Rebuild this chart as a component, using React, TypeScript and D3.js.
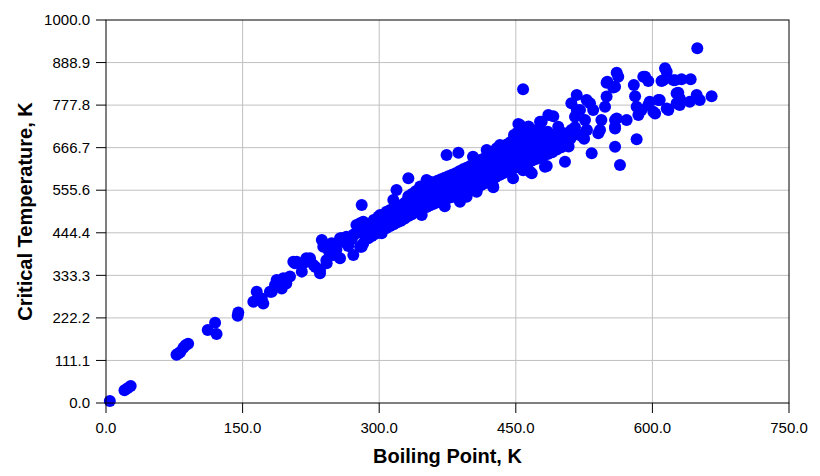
import React from "react";
import * as d3 from "d3";

// Boiling point (K), critical temperature (K)
const lowTail: [number, number][] = [
  [4.2, 5.2], [20.3, 33.2], [23.6, 38.3], [27.1, 44.4],
  [77.4, 126.2], [79.5, 129], [81.6, 132.9], [85, 144], [87.3, 150.8], [90.2, 154.6],
  [111.7, 190.6], [119.8, 209.4], [121.4, 180], [144.6, 227.6], [145.3, 236],
];

const lowerBand: [number, number][] = [
  [161.8, 264.5], [165.5, 290.6], [172.7, 260], [171, 273], [180, 290.6], [187.4, 321],
  [193, 299], [198, 312], [202, 330], [185.6, 308], [194.7, 325.6], [182, 290.6],
  [209.4, 369], [216.7, 364.7], [215, 343], [220, 377.8], [224, 378], [235, 338.6],
  [237, 425.6], [242.3, 364.7], [246, 412.5], [249.6, 386.4], [257, 430], [264, 434],
  [271.6, 386.4], [275, 464.8], [280.8, 517], [282.5, 473], [280.8, 408], [290, 451.7],
  [286, 430], [207.5, 364.7], [247.8, 417], [258.8, 430], [279, 408], [279, 469.2],
  [268, 425.6], [260.6, 430], [238.6, 408], [249.6, 391], [275, 443], [282.5, 417],
  [291.7, 443], [297, 473], [302.7, 443], [257, 378], [242, 373], [235, 347], [224, 373],
  [205.7, 369], [228, 360], [253, 400], [266, 410], [272, 440], [285, 455],
  [262, 420], [270, 428], [278, 450], [284, 440], [252, 410], [245, 395], [230, 355],
  [288, 462], [294, 478], [299, 486],
];

const denseBand: [number, number][] = [
  [288, 430], [288, 441], [288, 452],
  [292, 436], [292, 448], [292, 460],
  [296, 442], [296, 455], [296, 467], [296, 474],
  [300, 448], [300, 460], [300, 471], [300, 480],
  [304, 452], [304, 465], [304, 477], [304, 487],
  [308, 457], [308, 470], [308, 482], [308, 493],
  [312, 462], [312, 475], [312, 488], [312, 499],
  [316, 467], [316, 480], [316, 493], [316, 505],
  [320, 472], [320, 485], [320, 498], [320, 511],
  [324, 476], [324, 490], [324, 503], [324, 516],
  [328, 482], [328, 496], [328, 509], [328, 522],
  [332, 488], [332, 501], [332, 515], [332, 528], [332, 540],
  [336, 493], [336, 507], [336, 521], [336, 534], [336, 546],
  [340, 498], [340, 512], [340, 526], [340, 540], [340, 553],
  [344, 503], [344, 517], [344, 531], [344, 545], [344, 558],
  [348, 508], [348, 522], [348, 536], [348, 550], [348, 563],
  [352, 512], [352, 526], [352, 540], [352, 554], [352, 568],
  [356, 516], [356, 530], [356, 544], [356, 558], [356, 572],
  [360, 520], [360, 534], [360, 548], [360, 562], [360, 576],
  [364, 524], [364, 538], [364, 552], [364, 566], [364, 580],
  [368, 528], [368, 542], [368, 556], [368, 570], [368, 584],
  [372, 532], [372, 546], [372, 560], [372, 574], [372, 588],
  [376, 535], [376, 549], [376, 563], [376, 578], [376, 592],
  [380, 538], [380, 553], [380, 567], [380, 582], [380, 596],
  [384, 541], [384, 556], [384, 571], [384, 586], [384, 600],
  [388, 544], [388, 560], [388, 575], [388, 590], [388, 605],
  [392, 548], [392, 564], [392, 579], [392, 594], [392, 610],
  [396, 552], [396, 568], [396, 583], [396, 599], [396, 614],
  [400, 556], [400, 572], [400, 588], [400, 604], [400, 619],
  [404, 560], [404, 576], [404, 592], [404, 608], [404, 624],
  [408, 565], [408, 581], [408, 597], [408, 613], [408, 629],
  [412, 569], [412, 586], [412, 602], [412, 618], [412, 635],
  [416, 574], [416, 591], [416, 607], [416, 623], [416, 640],
  [420, 579], [420, 596], [420, 612], [420, 629], [420, 645],
  [424, 584], [424, 601], [424, 618], [424, 635], [424, 651],
  [428, 590], [428, 607], [428, 624], [428, 641], [428, 657],
  [432, 595], [432, 612], [432, 629], [432, 646], [432, 663],
  [436, 600], [436, 617], [436, 635], [436, 652], [436, 669],
  [440, 605], [440, 622], [440, 640], [440, 658], [440, 675],
  [444, 609], [444, 627], [444, 645], [444, 663], [444, 681],
  [448, 613], [448, 631], [448, 650], [448, 668], [448, 687], [448, 700],
  [452, 617], [452, 636], [452, 655], [452, 673], [452, 692], [452, 706],
  [456, 621], [456, 640], [456, 659], [456, 678], [456, 697], [456, 712],
  [460, 625], [460, 644], [460, 663], [460, 682], [460, 701], [460, 718],
  [464, 629], [464, 648], [464, 667], [464, 686], [464, 705], [464, 722],
  [468, 633], [468, 652], [468, 671], [468, 690], [468, 709],
  [472, 637], [472, 656], [472, 675], [472, 694], [472, 712],
  [476, 641], [476, 660], [476, 679], [476, 698], [476, 716],
  [480, 645], [480, 664], [480, 683], [480, 702],
  [485, 650], [485, 670], [485, 690], [485, 708],
  [490, 655], [490, 676], [490, 696],
  [495, 662], [495, 684], [495, 702],
  [500, 668], [500, 690],
  [505, 700], [510, 690], [515, 720], [520, 700], [525, 690], [500, 680], [508, 670],
];

const edgeOutliers: [number, number][] = [
  [332, 586.7], [319, 556], [374, 647.5], [387, 653.6], [403, 643], [418, 660.6],
  [432.6, 673.6], [452.8, 728.5], [478.4, 734.5], [485.7, 752], [425.3, 563.5],
  [447, 586.7], [467.5, 599.7], [482, 617], [407, 551.7], [387, 534], [372, 514],
  [463.7, 627.4], [346.7, 491], [388.7, 525.6], [458, 608], [330, 525.6], [323, 512.6],
  [312, 504], [301, 491], [308, 499.5], [315.5, 530], [345, 565], [352, 582],
  [355.8, 578], [359.4, 547.5], [396, 538.6], [407, 556], [425, 566.6], [429, 665],
  [454.6, 726],
];

const upperSpread: [number, number][] = [
  [649.3, 926], [458, 819], [560.8, 862.5], [562.5, 852], [549.7, 836.3], [557, 824],
  [590, 852], [595.5, 840.7], [613.9, 873.8], [615.7, 865], [610, 840.7], [623, 843],
  [632, 845], [642, 845], [579.6, 830], [581, 801], [665, 801], [652, 791],
  [648.6, 804], [641, 786.7], [630, 795.5], [628.4, 810], [630, 778], [617.5, 765],
  [608, 791], [601, 760.6], [597, 786.7], [588, 765], [584.6, 752], [582.7, 773.6],
  [571.7, 739], [560.8, 743], [559, 721.6], [542.5, 713], [544, 739], [535, 765],
  [531.5, 782.5], [549.7, 800], [548, 773.6], [527.8, 791], [516.9, 804], [511, 782.5],
  [520.5, 765], [515, 747.6], [527.8, 713], [524, 695], [540.6, 704], [582.7, 688.5],
  [559, 669], [564.4, 621.4], [533.3, 652], [504, 630], [484, 618.8], [465.6, 604],
  [491.2, 749], [476.6, 734.5], [496.6, 721.6], [502, 705], [511, 713], [559, 739],
  [559, 717], [528, 713], [595.5, 778], [603, 756], [606.5, 791], [615.7, 769],
  [626.6, 782.5], [626.6, 808.6], [526, 739], [517, 765], [550.5, 839], [559, 826],
  [592, 852], [612, 843], [625, 843],
];

const xTicks = [0, 150, 300, 450, 600, 750];
const yTicks = [0, 111.1, 222.2, 333.3, 444.4, 555.6, 666.7, 777.8, 888.9, 1000];

const xTitle = "Boiling Point, K";
const yTitle = "Critical Temperature, K";

export default function App() {
  const W = 820;
  const H = 476;
  const left = 106, right = 789, top = 20, bottom = 403;
  const x = d3.scaleLinear().domain([0, 750]).range([left, right]);
  const y = d3.scaleLinear().domain([0, 1000]).range([bottom, top]);
  const pts = [...lowTail, ...lowerBand, ...denseBand, ...edgeOutliers, ...upperSpread];
  const font = "Arial, 'Liberation Sans', sans-serif";

  return (
    <svg
      width={W}
      height={H}
      style={{ position: "absolute", left: 0, top: 0, background: "#fff" }}
    >
      <rect x={0} y={0} width={W} height={H} fill="#fff" />
      {xTicks.slice(1, -1).map((t) => (
        <line key={"gx" + t} x1={x(t)} x2={x(t)} y1={top} y2={bottom} stroke="#c0c0c0" strokeWidth={1} />
      ))}
      {yTicks.slice(1, -1).map((t) => (
        <line key={"gy" + t} x1={left} x2={right} y1={y(t)} y2={y(t)} stroke="#c0c0c0" strokeWidth={1} />
      ))}
      <g fill="#0000ff">
        {pts.map((p, i) => (
          <circle key={i} cx={x(p[0])} cy={y(p[1])} r={6} />
        ))}
      </g>
      <rect x={left} y={top} width={right - left} height={bottom - top} fill="none" stroke="#000" strokeWidth={1} />
      {yTicks.map((t) => (
        <g key={"yt" + t}>
          <line x1={left - 10} x2={left} y1={y(t)} y2={y(t)} stroke="#000" />
          <text x={left - 16} y={y(t)} dy="0.35em" textAnchor="end" fontFamily={font} fontSize={15} fill="#000">
            {t.toFixed(1)}
          </text>
        </g>
      ))}
      {xTicks.map((t) => (
        <g key={"xt" + t}>
          <line x1={x(t)} x2={x(t)} y1={bottom} y2={bottom + 10} stroke="#000" />
          <text x={x(t)} y={bottom + 30} textAnchor="middle" fontFamily={font} fontSize={15} fill="#000">
            {t.toFixed(1)}
          </text>
        </g>
      ))}
      <text x={(left + right) / 2} y={463} textAnchor="middle" fontFamily={font} fontSize={20} fontWeight="bold" fill="#000">
        {xTitle}
      </text>
      <text
        transform={`translate(32, ${(top + bottom) / 2}) rotate(-90)`}
        textAnchor="middle"
        fontFamily={font}
        fontSize={20}
        fontWeight="bold"
        fill="#000"
      >
        {yTitle}
      </text>
    </svg>
  );
}
